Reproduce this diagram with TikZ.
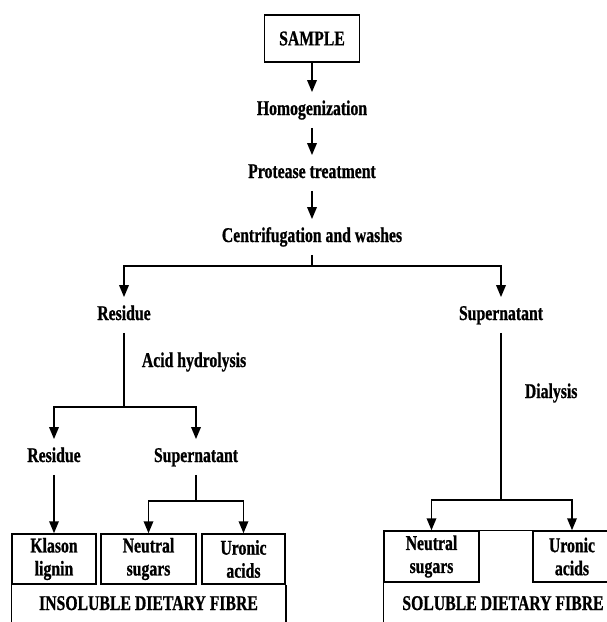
\documentclass[tikz,border=0pt]{standalone}
\usepackage{fontspec}
\setmainfont{Liberation Serif}[FakeStretch=0.75, BoldFeatures={FakeBold=0.8}]
\usetikzlibrary{arrows.meta}

\begin{document}
\begin{tikzpicture}[x=1pt, y=-1pt, line width=1.8pt,
  font=\fontsize{21}{23}\selectfont\bfseries,
  lbl/.style={inner xsep=2pt, inner ysep=8pt, text height=14pt, text depth=4pt, anchor=base},
  fbox/.style={draw, line width=1.5pt, align=center, inner sep=0pt},
  arr/.style={-{Triangle[width=9.5pt,length=12pt]}}]
  \useasboundingbox (0,0) rectangle (607,622);
  \clip (0,0) rectangle (607,622);
  % Top chain
  \node[fbox, minimum width=95pt, minimum height=47pt] (sample) at (312,38.5) {SAMPLE};
  \node[lbl] (homog) at (312,115) {Homogenization};
  \node[lbl] (prot) at (312,178) {Protease treatment};
  \node[lbl] (centri) at (312,242) {Centrifugation and washes};
  \draw[arr] (sample) -- (homog);
  \draw[arr] (homog) -- (prot);
  \draw[arr] (prot) -- (centri);
  % First split
  \node[lbl] (res) at (124,320) {Residue};
  \node[lbl] (sup) at (501,320) {Supernatant};
  \coordinate (c0) at (312,266);
  \draw (centri) -- (c0);
  \draw[arr] (c0) -| (res);
  \draw[arr] (c0) -| (sup);
  % Insoluble branch
  \node[lbl, anchor=base west] (acid) at (139,367) {Acid hydrolysis};
  \node[lbl] (resB) at (54,462) {Residue};
  \node[lbl] (supB) at (196,462) {Supernatant};
  \coordinate (c1) at (124,407);
  \draw (res) -- (c1);
  \draw[arr] (c1) -| (resB);
  \draw[arr] (c1) -| (supB);
  \node[fbox, minimum width=84pt, minimum height=50pt] (klason) at (54,559) {Klason\\lignin};
  \node[fbox, minimum width=95pt, minimum height=50pt] (neutA) at (148.5,559) {Neutral\\sugars};
  \node[fbox, minimum width=83pt, minimum height=50pt] (uronA) at (243.5,559) {Uronic\\acids};
  \draw[line width=1.5pt] (klason.south west) -- ++(0,45);
  \draw[line width=1.5pt] (uronA.south east) -- ++(0,45);
  \node[lbl] (insol) at (148.5,610) {INSOLUBLE DIETARY FIBRE};
  \draw[arr] (resB) -- (klason);
  \coordinate (c2) at (196,501);
  \draw (supB) -- (c2);
  \draw[arr] (c2) -| (neutA);
  \draw[arr] (c2) -| (uronA);
  % Soluble branch
  \node[lbl, anchor=base west] (dial) at (522,398) {Dialysis};
  \node[fbox, minimum width=95pt, minimum height=51pt] (neutB) at (431.5,556.5) {Neutral\\sugars};
  \node[fbox, minimum width=78pt, minimum height=51pt] (uronB) at (572,556.5) {Uronic\\acids};
  \draw[line width=1.5pt] (neutB.north east) -- (uronB.north west);
  \draw[line width=1.5pt] (neutB.south west) -- ++(0,45);
  \node[lbl] (sol) at (503,610) {SOLUBLE DIETARY FIBRE};
  \coordinate (c3) at (501,500);
  \draw (sup) -- (c3);
  \draw[arr] (c3) -| (neutB);
  \draw[arr] (c3) -| (uronB);
\end{tikzpicture}
\end{document}
